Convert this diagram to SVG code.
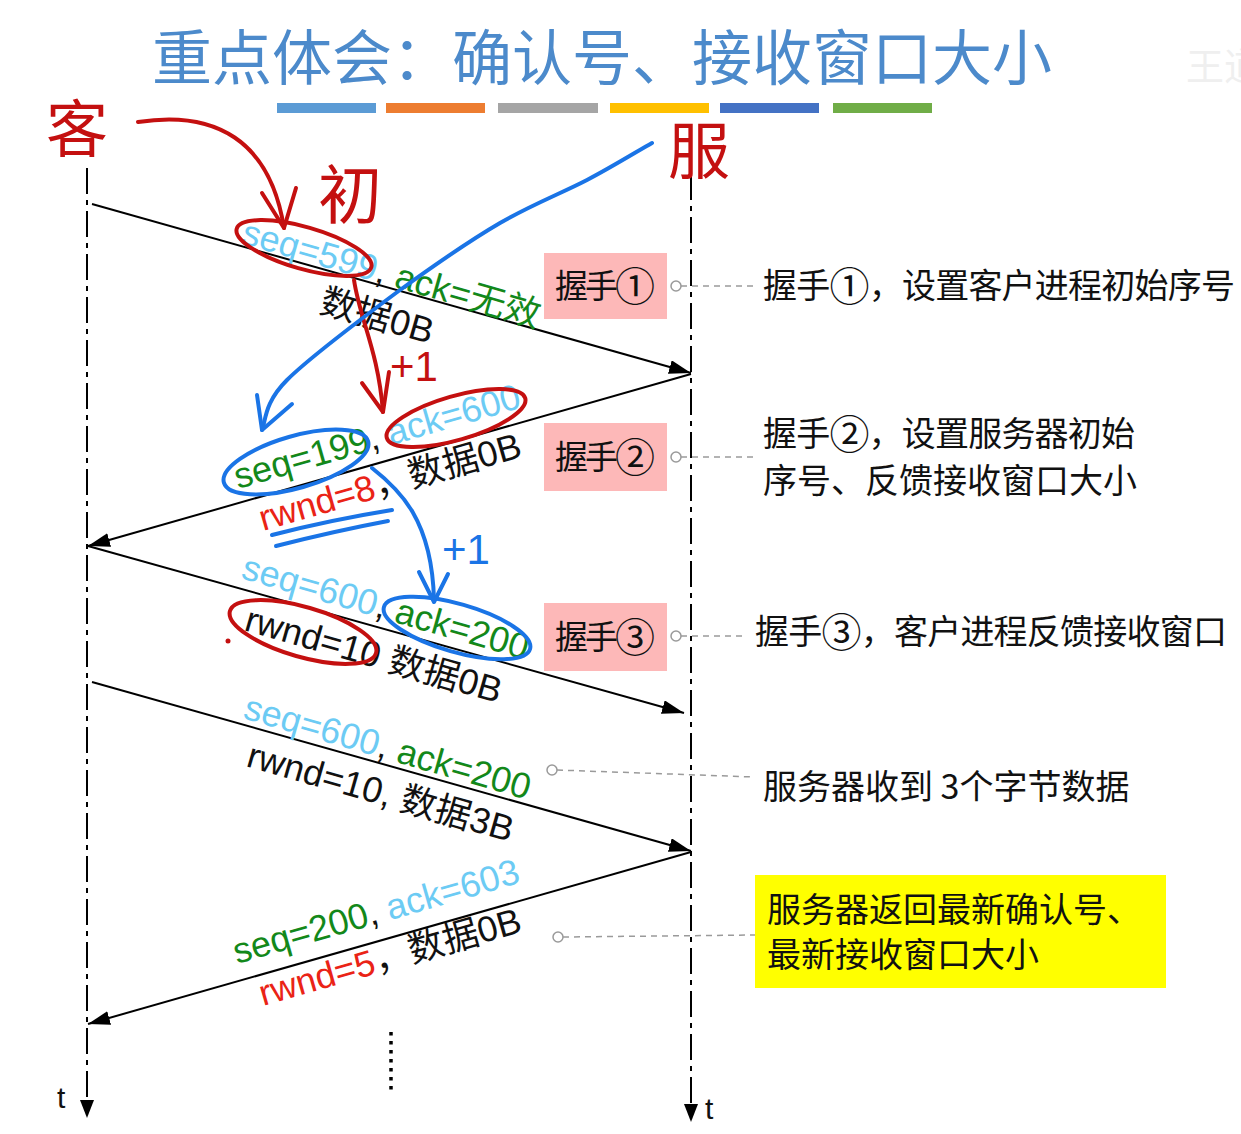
<svg xmlns="http://www.w3.org/2000/svg" width="1241" height="1134" viewBox="0 0 1241 1134">
<style>
.lbl{font-family:"Liberation Sans","Noto Sans CJK SC",sans-serif;font-size:36px}
.cn{font-family:"Noto Sans CJK SC",sans-serif}
.lb{fill:#6ccbf4}.gr{fill:#13881a}.rd{fill:#ea2316}.bk{fill:#111}
.life{stroke:#000;stroke-width:2;stroke-dasharray:26 6 5 6;fill:none}
.msg{stroke:#000;stroke-width:2;fill:none;marker-end:url(#ah)}
.dash{stroke:#9a9a9a;stroke-width:1.5;stroke-dasharray:6 5;fill:none}
.pin{fill:#fff;stroke:#9a9a9a;stroke-width:1.5}
.box{fill:#fdb8b8}
.note{font-family:"Noto Sans CJK SC",sans-serif;font-size:34px;fill:#111}
.circ{font-size:40px}
.hr{stroke:#c41010;stroke-width:4;fill:none;stroke-linecap:round;stroke-linejoin:round}
.hb{stroke:#1a74e6;stroke-width:4;fill:none;stroke-linecap:round;stroke-linejoin:round}
.hw{font-family:"Noto Sans CJK SC",sans-serif}
</style>
<defs>
<marker id="ah" markerUnits="userSpaceOnUse" markerWidth="24" markerHeight="16" refX="22" refY="7" orient="auto"><path d="M0,0 L22,7 L0,14 Z" fill="#000"/></marker>
</defs>
<rect width="1241" height="1134" fill="#fff"/>

<g id="title">
<text x="152" y="80" class="cn" font-size="60" fill="#4c8acb">重点体会：确认号、接收窗口大小</text>
<text x="1186" y="80" class="cn" font-size="38" fill="#efefef">王道</text>
<rect x="277" y="103" width="99" height="10" fill="#5b9bd5"/>
<rect x="386" y="103" width="99" height="10" fill="#ed7d31"/>
<rect x="498" y="103" width="100" height="10" fill="#a5a5a5"/>
<rect x="610" y="103" width="99" height="10" fill="#ffc000"/>
<rect x="720" y="103" width="99" height="10" fill="#4472c4"/>
<rect x="833" y="103" width="99" height="10" fill="#70ad47"/>
</g>

<g id="client">
<line x1="87" y1="168" x2="87" y2="1100" class="life"/>
<path d="M80,1100 L94,1100 L87,1118 Z" fill="#000"/>
<text x="57" y="1108" font-family="Liberation Sans, sans-serif" font-size="30" fill="#111">t</text>
</g>
<g id="server">
<line x1="691" y1="174" x2="691" y2="1104" class="life"/>
<path d="M684,1104 L698,1104 L691,1122 Z" fill="#000"/>
<text x="705" y="1119" font-family="Liberation Sans, sans-serif" font-size="30" fill="#111">t</text>
</g>

<g id="connectors">
<path d="M92,204 L691,373" class="msg"/>
<path d="M691,374 L88,546" class="msg"/>
<path d="M88,546 L684,713" class="msg"/>
<path d="M92,682 L691,851" class="msg"/>
<path d="M691,852 L88,1024" class="msg"/>
<line x1="391" y1="1032" x2="391" y2="1094" stroke="#000" stroke-width="3.5" stroke-dasharray="3.5 5.5"/>
<path d="M681,286 L755,286" class="dash"/>
<path d="M681,457 L755,457" class="dash"/>
<path d="M681,636 L745,636" class="dash"/>
<path d="M557,770 L754,777" class="dash"/>
<path d="M563,937 L755,935" class="dash"/>
<circle cx="676" cy="286" r="5" class="pin"/>
<circle cx="676" cy="457" r="5" class="pin"/>
<circle cx="676" cy="636" r="5" class="pin"/>
<circle cx="552" cy="770" r="5" class="pin"/>
<circle cx="558" cy="937" r="5" class="pin"/>
</g>

<g id="msg1-label" class="lbl" xml:space="preserve">
<text transform="translate(240,243) rotate(16)"><tspan class="lb">seq=599</tspan><tspan class="bk">, </tspan><tspan class="gr">ack=无效</tspan></text>
<text transform="translate(318,312) rotate(16)" class="bk">数据0B</text>
</g>
<g id="msg2-label" class="lbl" xml:space="preserve">
<text transform="translate(238,489) rotate(-16)"><tspan class="gr">seq=199</tspan><tspan class="bk">, </tspan><tspan class="lb">ack=600</tspan></text>
<text transform="translate(263,531) rotate(-16)"><tspan class="rd">rwnd=8</tspan><tspan class="bk">，数据0B</tspan></text>
</g>
<g id="msg3-label" class="lbl" xml:space="preserve">
<text transform="translate(240,578) rotate(16)"><tspan class="lb">seq=600</tspan><tspan class="bk">, </tspan><tspan class="gr">ack=200</tspan></text>
<text transform="translate(243,630) rotate(16)" class="bk">rwnd=10  数据0B</text>
</g>
<g id="msg4-label" class="lbl" xml:space="preserve">
<text transform="translate(242,718) rotate(16)"><tspan class="lb">seq=600</tspan><tspan class="bk">, </tspan><tspan class="gr">ack=200</tspan></text>
<text transform="translate(245,766) rotate(16)" class="bk">rwnd=10, 数据3B</text>
</g>
<g id="msg5-label" class="lbl" xml:space="preserve">
<text transform="translate(237,964) rotate(-16)"><tspan class="gr">seq=200</tspan><tspan class="bk">, </tspan><tspan class="lb">ack=603</tspan></text>
<text transform="translate(263,1006) rotate(-16)"><tspan class="rd">rwnd=5</tspan><tspan class="bk">，数据0B</tspan></text>
</g>

<g id="hs1">
<rect x="544" y="253" width="123" height="66" class="box"/>
<text x="555" y="298" textLength="100" lengthAdjust="spacing" class="cn" font-size="33" fill="#111">握手<tspan class="circ" dy="3">①</tspan></text>
</g>
<g id="hs2">
<rect x="544" y="423" width="123" height="68" class="box"/>
<text x="555" y="469" textLength="100" lengthAdjust="spacing" class="cn" font-size="33" fill="#111">握手<tspan class="circ" dy="3">②</tspan></text>
</g>
<g id="hs3">
<rect x="544" y="603" width="123" height="68" class="box"/>
<text x="555" y="649" textLength="100" lengthAdjust="spacing" class="cn" font-size="33" fill="#111">握手<tspan class="circ" dy="3">③</tspan></text>
</g>

<g id="note1"><text x="763" y="298" textLength="472" lengthAdjust="spacing" class="note">握手<tspan class="circ" dy="3">①</tspan><tspan dy="-3">，设置客户进程初始序号</tspan></text></g>
<g id="note2"><text x="763" y="446" textLength="372" lengthAdjust="spacing" class="note">握手<tspan class="circ" dy="3">②</tspan><tspan dy="-3">，设置服务器初始</tspan></text><text x="763" y="493" class="note">序号、反馈接收窗口大小</text></g>
<g id="note3"><text x="755" y="644" textLength="472" lengthAdjust="spacing" class="note">握手<tspan class="circ" dy="3">③</tspan><tspan dy="-3">，客户进程反馈接收窗口</tspan></text></g>
<g id="note4"><text x="763" y="799" class="note">服务器收到 3个字节数据</text></g>
<g id="note5">
<rect x="755" y="875" width="411" height="113" fill="#ffff00"/>
<text x="767" y="922" class="note">服务器返回最新确认号、</text>
<text x="767" y="967" class="note">最新接收窗口大小</text>
</g>

<g id="handwriting">
<text x="46" y="152" class="hw" font-size="62" fill="#c41010">客</text>
<text x="668" y="174" class="hw" font-size="62" fill="#c41010">服</text>
<text x="318" y="218" class="hw" font-size="64" fill="#c41010">初</text>
<text x="390" y="381" font-family="Liberation Sans, sans-serif" font-size="42" fill="#c41010">+1</text>
<text x="442" y="564" font-family="Liberation Sans, sans-serif" font-size="42" fill="#1a74e6">+1</text>
<path d="M138,122 C215,110 270,140 284,228" class="hr"/>
<path d="M262,193 L284,228 L296,188" class="hr"/>
<ellipse cx="304" cy="248" rx="70" ry="21" transform="rotate(16 304 248)" class="hr"/>
<path d="M354,280 C360,320 378,350 383,412" class="hr"/>
<path d="M362,383 L383,412 L389,372" class="hr"/>
<ellipse cx="456" cy="418" rx="72" ry="22" transform="rotate(-16 456 418)" class="hr"/>
<ellipse cx="303" cy="632" rx="76" ry="25" transform="rotate(16 303 632)" class="hr"/>
<circle cx="228" cy="641" r="2.5" fill="#c41010"/>
<path d="M652,143 C641,149 612,167 587,180 C562,193 531,205 500,223 C469,241 436,264 400,290 C365,316 310,357 287,380 C264,403 266,420 262,430" class="hb"/>
<path d="M257,395 L262,430 L292,404" class="hb"/>
<ellipse cx="296" cy="462" rx="75" ry="26" transform="rotate(-16 296 462)" class="hb"/>
<path d="M272,535 Q330,520 392,510" class="hb"/>
<path d="M276,546 Q335,531 388,521" class="hb"/>
<path d="M372,468 C400,490 432,520 434,600" class="hb"/>
<path d="M419,572 L434,602 L448,574" class="hb"/>
<ellipse cx="457" cy="628" rx="76" ry="24" transform="rotate(16 457 628)" class="hb"/>
</g>
</svg>
